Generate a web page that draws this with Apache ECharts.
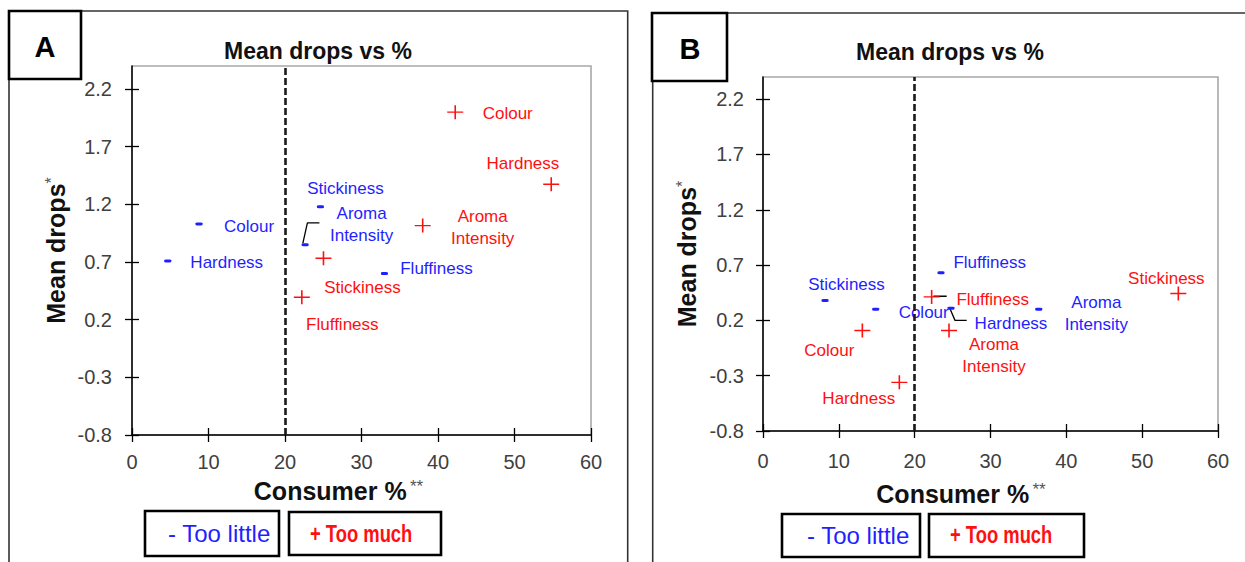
<!DOCTYPE html>
<html>
<head>
<meta charset="utf-8">
<script src="https://cdn.jsdelivr.net/npm/echarts@6/dist/echarts.min.js"></script>
<style>
  html, body { margin: 0; padding: 0; background: #fff; }
  #chart { width: 1245px; height: 562px; }
</style>
</head>
<body>
<div id="chart"></div>
<script>
// Sensory attributes rated on the JAR scale
const traits = ['Colour', 'Hardness', 'Stickiness', 'Aroma Intensity', 'Fluffiness'];

// Panel A: consumer % (x) and mean drop (y), per attribute
const aLittlePct  = [8.76, 4.67, 24.63, 22.63, 33.0];
const aLittleDrop = [1.03, 0.71, 1.18, 0.85, 0.60];
const aMuchPct    = [42.25, 54.8, 25.03, 38.0, 22.2];
const aMuchDrop   = [2.00, 1.375, 0.733, 1.016, 0.394];

// Panel B
const bLittlePct  = [14.86, 24.79, 8.18, 36.36, 23.47];
const bLittleDrop = [0.30, 0.31, 0.38, 0.30, 0.63];
const bMuchPct    = [13.1, 17.98, 54.77, 24.53, 22.24];
const bMuchDrop   = [0.109, -0.36, 0.443, 0.109, 0.412];

// Axis ticks and the 20 % consumer threshold
const yTicks = [-0.8, -0.3, 0.2, 0.7, 1.2, 1.7, 2.2];
const xTicks = [0, 10, 20, 30, 40, 50, 60];
const cutoffPct = 20;

// Leader lines joining crowded points to their labels (data units)
const aLeaders = [[[22.33, 0.862], [22.93, 1.04], [24.50, 1.04]]];
const bLeaders = [
  [[24.66, 0.306], [25.32, 0.20], [26.86, 0.20]],
  [[22.46, 0.418], [24.22, 0.418]]
];

const titleText = 'Mean drops vs %';
const littleText = '- Too little';
const muchText = '+ Too much';

// Label placement (pixel offsets from each point)
const labelPos = {
  aLittle: { 'Colour': [50, 3], 'Hardness': [59, 2], 'Stickiness': [25, -18], 'Aroma Intensity': [56.5, -20.5], 'Fluffiness': [52, -4.6] },
  aMuch:   { 'Colour': [52.5, 1], 'Hardness': [-28.3, -21], 'Stickiness': [39, 29.4], 'Aroma Intensity': [60, 1.5], 'Fluffiness': [40.5, 27] },
  bLittle: { 'Colour': [48, 3.4], 'Hardness': [60, 15], 'Stickiness': [21.5, -15.7], 'Aroma Intensity': [57.6, 4.2], 'Fluffiness': [48.7, -10] },
  bMuch:   { 'Colour': [-33, 20], 'Hardness': [-40.6, 16.6], 'Stickiness': [-12, -15], 'Aroma Intensity': [45, 25.5], 'Fluffiness': [61, 2.6] }
};

const BLUE = '#1f1fff';
const RED = '#ff1010';
const FONT = 'Liberation Sans';
const PLUS = 'path://M45,0 H55 V45 H100 V55 H55 V100 H45 V55 H0 V45 H45 Z';

const chart = echarts.init(document.getElementById('chart'), null, { renderer: 'svg' });

function xAxesFor(gridIndex, nameGap, padRight, labelMargin) {
  const base = {
    gridIndex, type: 'value', min: xTicks[0], max: xTicks[xTicks.length - 1], interval: 10,
    position: 'bottom', splitLine: { show: false }
  };
  return [
    Object.assign({}, base, {
      axisLine: { show: true, onZero: false, lineStyle: { color: '#000', width: 1.5 } },
      axisTick: { show: true, inside: false, length: 7, lineStyle: { color: '#000', width: 1.3 } },
      axisLabel: { fontSize: 20, color: '#404040', margin: labelMargin, fontFamily: FONT },
      name: '{t|Consumer %} {s|**}',
      nameLocation: 'middle', nameGap,
      nameTextStyle: {
        padding: [0, padRight, 0, 0],
        rich: {
          t: { fontSize: 25, fontWeight: 'bold', color: '#111', fontFamily: FONT },
          s: { fontSize: 17, color: '#555', verticalAlign: 'top', fontFamily: FONT }
        }
      }
    }),
    Object.assign({}, base, {
      axisLine: { show: false, onZero: false },
      axisTick: { show: true, inside: true, length: 7, lineStyle: { color: '#000', width: 1.3 } },
      axisLabel: { show: false }
    })
  ];
}

function yAxesFor(gridIndex, nameGap, labelMargin) {
  const base = {
    gridIndex, type: 'value', min: -0.8, max: 2.4, interval: 0.5,
    position: 'left', splitLine: { show: false }
  };
  return [
    Object.assign({}, base, {
      axisLine: { show: true, onZero: false, lineStyle: { color: '#000', width: 1.5 } },
      axisTick: { show: true, inside: false, length: 7, customValues: yTicks, lineStyle: { color: '#000', width: 1.3 } },
      axisLabel: { fontSize: 20, color: '#404040', margin: labelMargin, customValues: yTicks, fontFamily: FONT },
      name: '{t|Mean drops}{s|*}',
      nameLocation: 'middle', nameGap,
      nameTextStyle: {
        rich: {
          t: { fontSize: 25, fontWeight: 'bold', color: '#111', fontFamily: FONT },
          s: { fontSize: 16, color: '#555', verticalAlign: 'top', fontFamily: FONT }
        }
      }
    }),
    Object.assign({}, base, {
      axisLine: { show: false, onZero: false },
      axisTick: { show: true, inside: true, length: 7, customValues: yTicks, lineStyle: { color: '#000', width: 1.3 } },
      axisLabel: { show: false }
    })
  ];
}

function pointSeries(name, axis, pct, drop, offsets, color, symbol, size, extra) {
  return Object.assign({
    type: 'scatter', name,
    xAxisIndex: axis, yAxisIndex: axis,
    symbol, symbolSize: size,
    itemStyle: { color, opacity: 1 },
    label: {
      show: true, position: 'inside',
      formatter: p => p.name.replace(' ', '\n'),
      color, fontSize: 17, lineHeight: 22, fontFamily: FONT,
      align: 'center', verticalAlign: 'middle'
    },
    data: traits.map((t, i) => ({ name: t, value: [pct[i], drop[i]], label: { offset: offsets[t] } })),
    emphasis: { disabled: true },
    silent: true, z: 3
  }, extra || {});
}

function cutoffLine() {
  return {
    markLine: {
      silent: true, symbol: 'none', label: { show: false },
      lineStyle: { color: '#1a1a1a', width: 2.6, type: [7, 3] },
      data: [{ xAxis: cutoffPct }]
    }
  };
}

function leaderSeries(paths, axis) {
  return paths.map(path => ({
    type: 'line', xAxisIndex: axis, yAxisIndex: axis,
    data: path, symbol: 'none', silent: true, z: 2,
    lineStyle: { color: '#000', width: 1.3 },
    emphasis: { disabled: true }
  }));
}

function frameRect(x, y, w, h, lw, stroke, fill) {
  return { type: 'rect', silent: true, shape: { x, y, width: w, height: h },
           style: { fill: fill || 'none', stroke: stroke || '#000', lineWidth: lw } };
}

function textEl(x, y, text, opts) {
  return Object.assign({ type: 'text', silent: true, x, y,
    style: Object.assign({ text, fontFamily: FONT, textVerticalAlign: 'middle' }, opts.style) }, opts.el || {});
}

const graphics = [
  // panel outlines
  frameRect(9, 11, 618.7, 620, 1.6, '#333'),
  frameRect(652.7, 13, 700, 620, 1.6, '#333'),
  // panel letters
  frameRect(9, 11, 72, 68, 2.6, '#000', '#fff'),
  frameRect(652, 13, 75, 68, 2.6, '#000', '#fff'),
  textEl(45, 47, 'A', { style: { fontSize: 29, fontWeight: 'bold', fill: '#000', textAlign: 'center' } }),
  textEl(690, 49, 'B', { style: { fontSize: 29, fontWeight: 'bold', fill: '#000', textAlign: 'center' } }),
  // chart titles
  textEl(318, 51, titleText, { style: { fontSize: 23, fontWeight: 'bold', fill: '#111', textAlign: 'center' } }),
  textEl(950, 51.5, titleText, { style: { fontSize: 23, fontWeight: 'bold', fill: '#111', textAlign: 'center' } }),
  // legend boxes
  frameRect(145, 511, 134, 45, 2.6),
  frameRect(289, 512, 152, 43, 2.6),
  frameRect(782, 514, 138, 43, 2.6),
  frameRect(929, 514, 155, 43, 2.6),
  textEl(168, 533.5, littleText, { style: { fontSize: 24, fill: BLUE, textAlign: 'left' } }),
  textEl(310, 533.5, muchText, { style: { fontSize: 23, fontWeight: 'bold', fill: RED, textAlign: 'left' }, el: { scaleX: 0.8 } }),
  textEl(807, 535, littleText, { style: { fontSize: 24, fill: BLUE, textAlign: 'left' } }),
  textEl(950, 535, muchText, { style: { fontSize: 23, fontWeight: 'bold', fill: RED, textAlign: 'left' }, el: { scaleX: 0.8 } })
];

const gridStyle = { show: true, borderColor: '#a8a8a8', borderWidth: 1.6, backgroundColor: 'transparent', containLabel: false };

const option = {
  animation: false,
  textStyle: { fontFamily: FONT },
  grid: [
    Object.assign({ left: 132, top: 66, width: 459, height: 369 }, gridStyle),
    Object.assign({ left: 763, top: 77, width: 455, height: 354 }, gridStyle)
  ],
  xAxis: [].concat(xAxesFor(0, 43, 46, 17), xAxesFor(1, 50, 59, 20)),
  yAxis: [].concat(yAxesFor(0, 64, 20), yAxesFor(1, 64, 19)),
  series: [].concat(
    [pointSeries('Too little', 0, aLittlePct, aLittleDrop, labelPos.aLittle, BLUE, 'roundRect', [7, 3], cutoffLine()),
     pointSeries('Too much', 0, aMuchPct, aMuchDrop, labelPos.aMuch, RED, PLUS, [16, 14])],
    leaderSeries(aLeaders, 0),
    [pointSeries('Too little', 2, bLittlePct, bLittleDrop, labelPos.bLittle, BLUE, 'roundRect', [7, 3], cutoffLine()),
     pointSeries('Too much', 2, bMuchPct, bMuchDrop, labelPos.bMuch, RED, PLUS, [16, 14])],
    leaderSeries(bLeaders, 2)
  ),
  graphic: graphics
};

chart.setOption(option);
</script>
</body>
</html>
